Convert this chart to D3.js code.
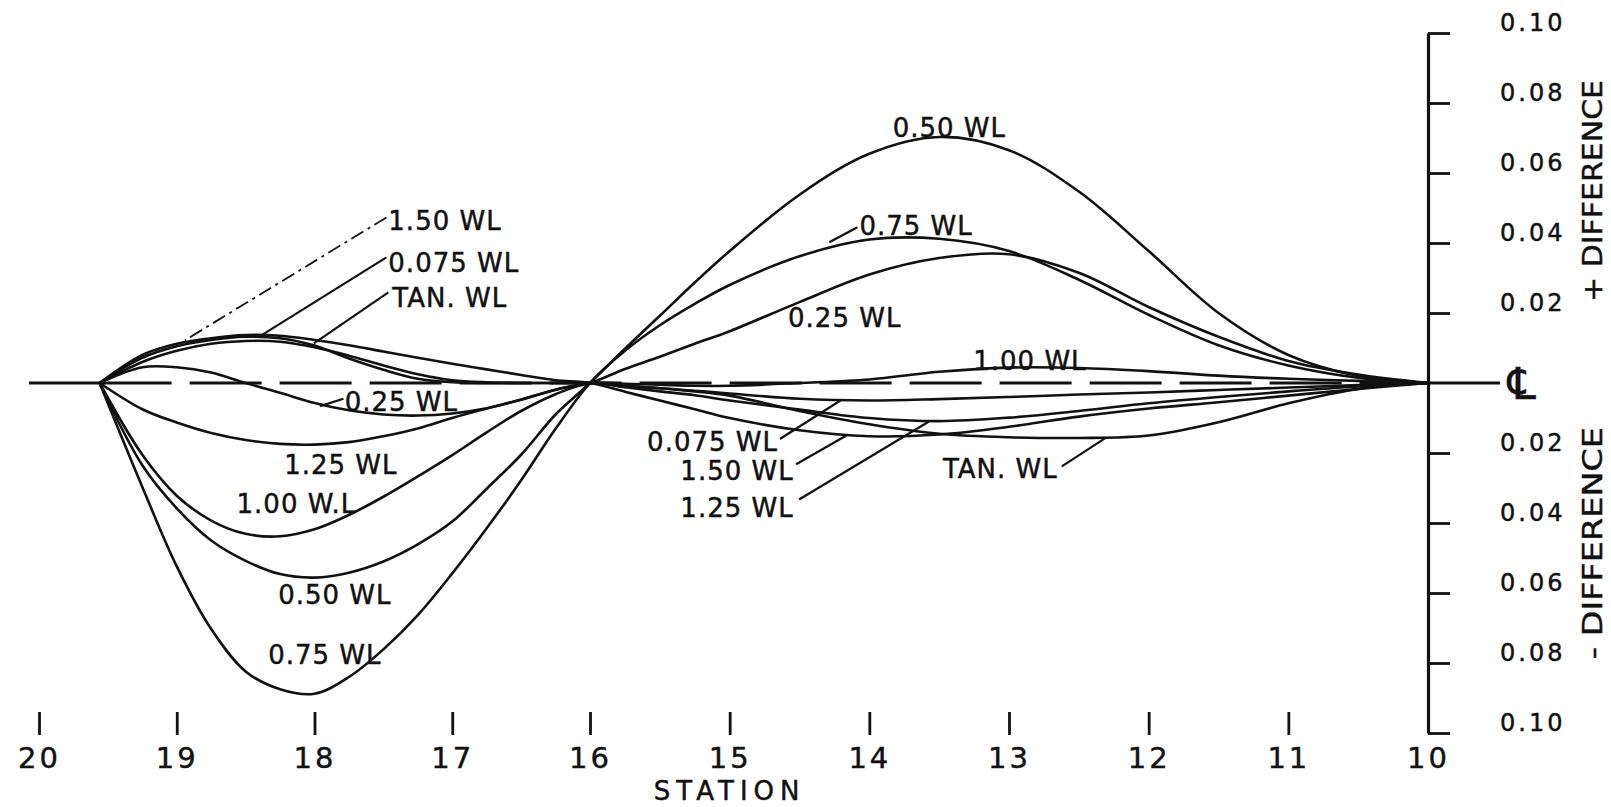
<!DOCTYPE html>
<html>
<head>
<meta charset="utf-8">
<script src="https://cdn.jsdelivr.net/npm/d3@7"></script>
<style>
  html, body { margin: 0; padding: 0; background: #fff; }
  svg { display: block; }
  text { font-family: "DejaVu Sans", sans-serif; fill: #111; stroke: #111; stroke-width: 0.45px; }
</style>
</head>
<body>
<div id="chart"></div>
<script>
// Stations (20 = end of run, 10 = amidships)
const stations = [19.56, 19.25, 19, 18.75, 18.5, 18.25, 18, 17.75, 17.5, 17.25, 17, 16.75, 16.5, 16.25, 16,
                  15.75, 15.5, 15.25, 15, 14.5, 14, 13.5, 13, 12.5, 12, 11.5, 11, 10.5, 10];

// Difference from the centreline, one array per waterline
const wl0075 = [0, 0.0072, 0.0105, 0.0123, 0.0132, 0.0128, 0.0107, 0.0070, 0.0038, 0.0012, 0.0002, 0, 0, 0, 0,
                -0.0008, -0.0015, -0.0022, -0.0030, -0.0045, -0.0050, -0.0046, -0.0040, -0.0033, -0.0027, -0.0020, -0.0013, -0.0006, 0];
const wlTan  = [0, 0.0060, 0.0092, 0.0112, 0.0120, 0.0118, 0.0102, 0.0078, 0.0050, 0.0025, 0.0008, 0.0002, 0, 0, 0,
                -0.0008, -0.0015, -0.0024, -0.0036, -0.0080, -0.0118, -0.0145, -0.0155, -0.0157, -0.0150, -0.0112, -0.0058, -0.0017, 0];
const wl025  = [0, 0.0045, 0.0045, 0.0030, 0.0000, -0.0028, -0.0057, -0.0078, -0.0090, -0.0093, -0.0087, -0.0072, -0.0048, -0.0019, 0,
                0.0040, 0.0075, 0.0112, 0.0148, 0.0231, 0.0310, 0.0357, 0.0368, 0.0315, 0.0217, 0.0132, 0.0063, 0.0024, 0];
const wl050  = [0, -0.0235, -0.0358, -0.0450, -0.0508, -0.0546, -0.0556, -0.0542, -0.0510, -0.0461, -0.0396, -0.0302, -0.0205, -0.0090, 0,
                0.0098, 0.0192, 0.0287, 0.0377, 0.0538, 0.0655, 0.0703, 0.0665, 0.0547, 0.0377, 0.0200, 0.0080, 0.0020, 0];
const wl075  = [0, -0.0297, -0.0524, -0.0703, -0.0824, -0.0875, -0.0888, -0.0840, -0.0761, -0.0663, -0.0544, -0.0415, -0.0278, -0.0131, 0,
                0.0092, 0.0165, 0.0226, 0.0280, 0.0362, 0.0410, 0.0412, 0.0377, 0.0295, 0.0195, 0.0108, 0.0050, 0.0015, 0];
const wl100  = [0, -0.0205, -0.0322, -0.0393, -0.0431, -0.0438, -0.0418, -0.0377, -0.0325, -0.0267, -0.0206, -0.0141, -0.0080, -0.0032, 0,
                -0.0002, -0.0005, -0.0008, -0.0008, 0.0000, 0.0010, 0.0032, 0.0044, 0.0043, 0.0034, 0.0021, 0.0012, 0.0006, 0];
const wl125  = [0, -0.0075, -0.0113, -0.0143, -0.0163, -0.0174, -0.0176, -0.0169, -0.0152, -0.0130, -0.0100, -0.0073, -0.0047, -0.0019, 0,
                -0.0012, -0.0024, -0.0035, -0.0050, -0.0076, -0.0100, -0.0109, -0.0099, -0.0080, -0.0058, -0.0040, -0.0024, -0.0010, 0];
const wl150  = [0, 0.0080, 0.0112, 0.0128, 0.0137, 0.0135, 0.0123, 0.0108, 0.0090, 0.0072, 0.0055, 0.0039, 0.0023, 0.0008, 0,
                -0.0025, -0.0050, -0.0075, -0.0100, -0.0135, -0.0152, -0.0147, -0.0125, -0.0096, -0.0073, -0.0055, -0.0036, -0.0017, 0];

const series = [wl0075, wlTan, wl025, wl050, wl075, wl100, wl125, wl150];

// Axis ticks
const stationTicks = [20, 19, 18, 17, 16, 15, 14, 13, 12, 11, 10];
const diffTicks = [0.10, 0.08, 0.06, 0.04, 0.02, -0.02, -0.04, -0.06, -0.08, -0.10];

// Curve labels: text, anchor (station, difference), optional leader line
const labels = [
    { text: "1.50 WL",  s: 17.464, v: 0.0436,  lead: [17.478, 0.0473, 18.941, 0.0122], dash: true },
    { text: "0.075 WL", s: 17.464, v: 0.0316,  lead: [17.478, 0.0359, 18.386, 0.0136] },
    { text: "TAN. WL",  s: 17.435, v: 0.0216,  lead: [17.464, 0.0259, 18.004, 0.0113] },
    { text: "0.25 WL",  s: 17.781, v: -0.0079, lead: [17.79, -0.0045, 17.96, -0.0066] },
    { text: "1.25 WL",  s: 18.22,  v: -0.0259 },
    { text: "1.00 W.L", s: 18.566, v: -0.0370 },
    { text: "0.50 WL",  s: 18.264, v: -0.0631 },
    { text: "0.75 WL",  s: 18.336, v: -0.0803 },
    { text: "0.50 WL",  s: 13.833, v: 0.0702 },
    { text: "0.75 WL",  s: 14.071, v: 0.0422,  lead: [14.085, 0.0445, 14.287, 0.0402] },
    { text: "0.25 WL",  s: 14.582, v: 0.0159 },
    { text: "1.00 WL",  s: 13.256, v: 0.0036 },
    { text: "0.075 WL", s: 15.591, v: -0.0194, lead: [14.640, -0.0160, 14.207, -0.0050] },
    { text: "1.50 WL",  s: 15.353, v: -0.0276, lead: [14.524, -0.0232, 14.164, -0.0150] },
    { text: "1.25 WL",  s: 15.353, v: -0.0382, lead: [14.503, -0.0333, 13.573, -0.0110] },
    { text: "TAN. WL",  s: 13.473, v: -0.0272, lead: [12.622, -0.0238, 12.305, -0.0156] }
];

const W = 1611, H = 807;
const ink = "#111";

const svg = d3.select("#chart").append("svg")
    .attr("width", W)
    .attr("height", H);

svg.append("rect").attr("width", W).attr("height", H).attr("fill", "#fff");

// hand-drawn sheet: station spacing differs a little either side of 16
const x = d3.scaleLinear().domain([20, 16, 10]).range([39, 590, 1428]);
const y = d3.scaleLinear().domain([-0.1, 0.1]).range([733, 33]);

// Centreline
svg.append("line")
    .attr("x1", 29).attr("x2", x(19.56))
    .attr("y1", y(0)).attr("y2", y(0))
    .attr("stroke", ink).attr("stroke-width", 2.8);
svg.append("line")
    .attr("x1", x(19.56)).attr("x2", x(10))
    .attr("y1", y(0)).attr("y2", y(0))
    .attr("stroke", ink).attr("stroke-width", 2.8)
    .attr("stroke-dasharray", "72,18");
svg.append("line")
    .attr("x1", x(10)).attr("x2", 1500)
    .attr("y1", y(0)).attr("y2", y(0))
    .attr("stroke", ink).attr("stroke-width", 2.8);

// Curves
const line = d3.line()
    .x((d, i) => x(stations[i]))
    .y(d => y(d))
    .curve(d3.curveCatmullRom.alpha(0.5));

svg.append("g")
    .selectAll("path")
    .data(series)
    .enter()
    .append("path")
    .attr("d", line)
    .attr("fill", "none")
    .attr("stroke", ink)
    .attr("stroke-width", 2.6)
    .attr("stroke-linejoin", "round");

// Bottom axis: stations
const xAxis = svg.append("g")
    .attr("transform", `translate(0,712)`)
    .call(d3.axisBottom(x)
        .tickValues(stationTicks)
        .tickSize(23)
        .tickPadding(12)
        .tickFormat(d3.format("d")));
xAxis.select(".domain").remove();
xAxis.selectAll(".tick line").attr("stroke", ink).attr("stroke-width", 2.8)
    .filter(d => d === 10).remove();
xAxis.selectAll(".tick text")
    .style("font-family", '"DejaVu Sans", sans-serif')
    .style("font-size", "29px")
    .style("letter-spacing", "3px")
    .attr("fill", ink);

svg.append("text")
    .attr("x", x(15))
    .attr("y", 800)
    .attr("text-anchor", "middle")
    .style("font-size", "26px")
    .style("letter-spacing", "6px")
    .text("STATION");

// Right axis: difference
const yAxis = svg.append("g")
    .attr("transform", `translate(${x(10)},0)`)
    .call(d3.axisRight(y)
        .tickValues(diffTicks)
        .tickSize(22)
        .tickSizeOuter(0)
        .tickPadding(50)
        .tickFormat(d => Math.abs(d).toFixed(2)));
yAxis.select(".domain").attr("stroke", ink).attr("stroke-width", 3.2);
yAxis.selectAll(".tick line").attr("stroke", ink).attr("stroke-width", 2.8);
yAxis.selectAll(".tick text")
    .attr("dy", "-0.1em")
    .style("font-family", '"DejaVu Sans", sans-serif')
    .style("font-size", "24px")
    .style("letter-spacing", "3px")
    .attr("fill", ink);

// Centreline symbol
svg.append("text")
    .attr("x", 1522)
    .attr("y", y(0))
    .attr("dy", "0.36em")
    .attr("text-anchor", "middle")
    .style("font-size", "44px")
    .text("\u2104");

svg.append("text")
    .attr("transform", "translate(1592,191) rotate(-90)")
    .attr("text-anchor", "middle")
    .attr("dy", "0.36em")
    .attr("textLength", 222)
    .attr("lengthAdjust", "spacingAndGlyphs")
    .style("font-size", "27px")
    .text("+ DIFFERENCE");

svg.append("text")
    .attr("transform", "translate(1592,543) rotate(-90)")
    .attr("text-anchor", "middle")
    .attr("dy", "0.36em")
    .attr("textLength", 232)
    .attr("lengthAdjust", "spacingAndGlyphs")
    .style("font-size", "27px")
    .text("- DIFFERENCE");

// Labels and leaders
labels.filter(d => d.lead).forEach(d => {
    svg.append("line")
        .attr("x1", x(d.lead[0])).attr("y1", y(d.lead[1]))
        .attr("x2", x(d.lead[2])).attr("y2", y(d.lead[3]))
        .attr("stroke", ink)
        .attr("stroke-width", d.dash ? 1.8 : 2.2)
        .attr("stroke-dasharray", d.dash ? "14,5,3,5" : null);
});

svg.append("g")
    .selectAll("text")
    .data(labels)
    .enter()
    .append("text")
    .attr("x", d => x(d.s))
    .attr("y", d => y(d.v))
    .style("font-size", "26px")
    .style("letter-spacing", "1px")
    .text(d => d.text);
</script>
</body>
</html>
